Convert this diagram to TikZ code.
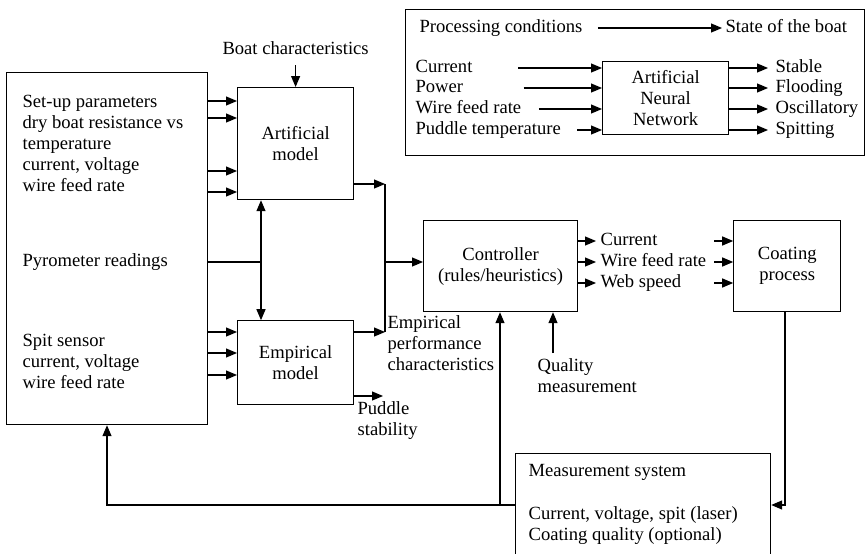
\documentclass[tikz,border=0pt]{standalone}
\usepackage{fontspec}
\setmainfont{Liberation Serif}
\usetikzlibrary{arrows.meta,positioning}
\tikzset{
    > = {Triangle[length=11pt,width=9pt]},
    every node/.append style = {
        font = \fontsize{18.6}{21}\selectfont,
        inner sep = 0pt
    },
    block/.style = {
        draw = black,
        rectangle,
        align = center
    },
    note/.style = {
        anchor = west,
        align = left
    },
    item/.style = {
        note,
        text height = 12.5pt,
        text depth = 4pt
    }
}

\begin{document}
\begin{tikzpicture}[x=1pt, y=-1pt, line width=1.2pt]
    \clip (0,0) rectangle (865,554);

%sensors on the left
    \node (sens) [block, anchor=north west, minimum width=201pt, minimum height=352pt] at (6,72) {};
    \node (setup) [note] at (22,143.5) {Set-up parameters\\dry boat resistance vs\\temperature\\current, voltage\\wire feed rate};
    \node (pyro) [note] at (22,262) {Pyrometer readings};
    \node (spit) [note] at (22,361) {Spit sensor\\current, voltage\\wire feed rate};

%models
    \node (art) [block, anchor=north west, minimum width=116pt, minimum height=112pt] at (237,87) {Artificial\\model};
    \node (emp) [block, below=120pt of art, minimum width=116pt, minimum height=84pt] {Empirical\\model};
    \node (boat) [above=32pt of art] {Boat characteristics};
    \draw[->] ([yshift=-10pt]boat.south) -- (art.north);

    \foreach \y in {101,118,171,192}
        \draw[->] (sens.east |- 0,\y) -- (art.west |- 0,\y);
    \foreach \y in {332,353,375}
        \draw[->] (sens.east |- 0,\y) -- (emp.west |- 0,\y);

    \coordinate (tap) at (261,262);
    \draw (sens.east |- tap) -- (tap);
    \draw[<->] (art.south -| tap) -- (emp.north -| tap);

%controller
    \node (ctrl) [block, anchor=north west, minimum width=154pt, minimum height=91pt] at (423,220) {Controller\\(rules/heuristics)};
    \coordinate (merge) at (385,262);
    \draw[->] (art.east |- 0,184) -- (merge |- 0,184);
    \draw[->] (emp.east |- 0,332) -- (merge |- 0,332);
    \draw (merge |- 0,184) -- (merge |- 0,332);
    \draw[->] (merge) -- (ctrl.west |- merge);

    \coordinate (pud) at (383,396);
    \draw[->] (emp.east |- pud) -- (pud);
    \node (stab) [note] at (357,421) {Puddle\\stability};
    \node (perf) [note] at (387,343.5) {Empirical\\performance\\characteristics};

    \coordinate (qin) at (553,353);
    \draw[->] (qin) -- (ctrl.south -| qin);
    \node (qual) [note] at (537,376) {Quality\\measurement};

%process
    \node (coat) [block, right=155pt of ctrl, minimum width=107pt, minimum height=91pt] {Coating\\process};
    \foreach \y/\t [count=\i] in {241/Current, 262/Wire feed rate, 283/Web speed} {
        \node (set\i) [item] at (600,\y) {\t};
        \draw[->] (ctrl.east |- set\i) -- ([xshift=-4pt]set\i.west);
        \draw[->] ([xshift=-19pt]coat.west |- set\i) -- (coat.west |- set\i);
    }

%measurement and feedback
    \node (meas) [block, anchor=north west, minimum width=255pt, minimum height=130pt] at (515,453) {};
    \node (mtitle) [note] at (528,472) {Measurement system};
    \node (mbody) [note] at (528,526) {Current, voltage, spit (laser)\\Coating quality (optional)};

    \coordinate (ret) at (107,505);
    \coordinate (back) at (500,505);
    \coordinate (down) at (785,505);
    \draw[->] (meas.west |- ret) -- (ret) -- (sens.south -| ret);
    \draw[->] (back) -- (ctrl.south -| back);
    \draw[->] (coat.south -| down) -- (down) -- (meas.east |- down);

%neural network key
    \node (key) [block, anchor=north west, minimum width=459pt, minimum height=146pt] at (405,9) {};
    \node (pc) [item] at (419,28) {Processing conditions};
    \node (sb) [item] at (725,28) {State of the boat};
    \draw[->, shorten <=15pt, shorten >=3pt] (pc.east) -- (sb.west);

    \node (ann) [block, anchor=north west, minimum width=126pt, minimum height=73pt] at (602,61) {Artificial\\Neural\\Network};
    \foreach \y/\t/\g [count=\i] in {68/Current/45, 88/Power/60, 109/Wire feed rate/17, 130/Puddle temperature/16} {
        \node (in\i) [item] at (415,\y) {\t};
        \draw[->] ([xshift=\g]in\i.east) -- (ann.west |- in\i);
    }
    \foreach \y/\t [count=\i] in {68/Stable, 88/Flooding, 109/Oscillatory, 130/Spitting} {
        \node (out\i) [item] at (775,\y) {\t};
        \draw[->] (ann.east |- out\i) -- ([xshift=-7pt]out\i.west);
    }
\end{tikzpicture}
\end{document}
